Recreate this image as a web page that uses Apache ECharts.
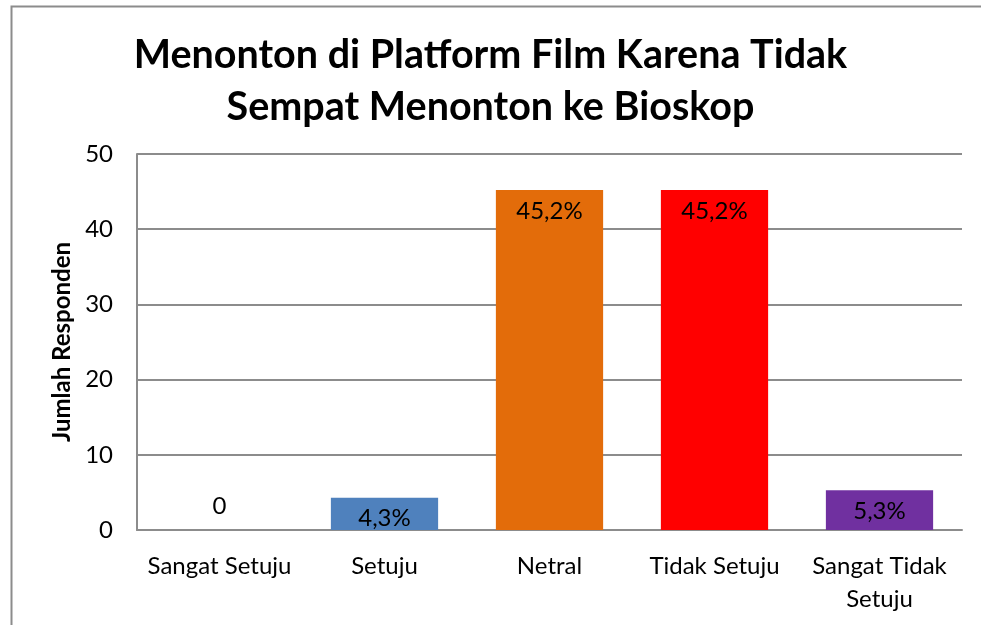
<!DOCTYPE html>
<html>
<head>
<meta charset="utf-8">
<script src="https://cdn.jsdelivr.net/npm/echarts@6/dist/echarts.min.js"></script>
<style>
  html, body { margin: 0; padding: 0; background: #fff; }
  #chart { width: 981px; height: 625px; }
</style>
</head>
<body>
<div id="chart"></div>
<script>
// data
const categories = ['Sangat Setuju', 'Setuju', 'Netral', 'Tidak Setuju', 'Sangat Tidak\nSetuju']
const values = [0, 4.3, 45.2, 45.2, 5.3]
const valueLabels = ['0', '4,3%', '45,2%', '45,2%', '5,3%']
const barColors = ['#4F81BD', '#4F81BD', '#E36C0A', '#FF0000', '#7030A0']

const font = 'Lato, "Open Sans", sans-serif'

const chart = echarts.init(document.getElementById('chart'))

const option = {
    animation: false,
    textStyle: { fontFamily: font },
    graphic: [
        {
            type: 'rect',
            shape: { x: 11.5, y: 6.5, width: 1000, height: 700 },
            style: { fill: 'none', stroke: '#8c8c8c', lineWidth: 2 },
            silent: true
        }
    ],
    title: {
        text: 'Menonton di Platform Film Karena Tidak\nSempat Menonton ke Bioskop',
        left: 'center',
        top: 24,
        textStyle: {
            fontFamily: font,
            fontSize: 39.5,
            fontWeight: 'bold',
            color: '#000',
            lineHeight: 52
        }
    },
    grid: {
        left: 137,
        right: 19,
        top: 154,
        bottom: 95
    },
    xAxis: {
        type: 'category',
        data: categories,
        axisLine: { lineStyle: { color: '#8c8c8c', width: 2 } },
        axisTick: { show: false },
        axisLabel: {
            color: '#000',
            fontSize: 24,
            lineHeight: 33,
            margin: 20,
            interval: 0
        }
    },
    yAxis: {
        type: 'value',
        min: 0,
        max: 50,
        interval: 10,
        name: 'Jumlah Responden',
        nameLocation: 'middle',
        nameGap: 62,
        nameTextStyle: {
            color: '#000',
            fontSize: 24,
            fontWeight: 'bold'
        },
        axisLine: { show: true, lineStyle: { color: '#8c8c8c', width: 2 } },
        axisTick: { show: false },
        axisLabel: { color: '#000', fontSize: 24, margin: 24 },
        splitLine: { lineStyle: { color: '#8c8c8c', width: 2 } }
    },
    series: [
        {
            type: 'bar',
            barWidth: '65%',
            data: values.map((v, i) => ({
                value: v,
                itemStyle: { color: barColors[i] },
                label: {
                    show: true,
                    position: v === 0 ? 'top' : 'insideTop',
                    distance: v === 0 ? 12 : 9,
                    formatter: valueLabels[i],
                    color: '#000',
                    fontSize: 24
                }
            }))
        }
    ]
}

chart.setOption(option)
</script>
</body>
</html>
